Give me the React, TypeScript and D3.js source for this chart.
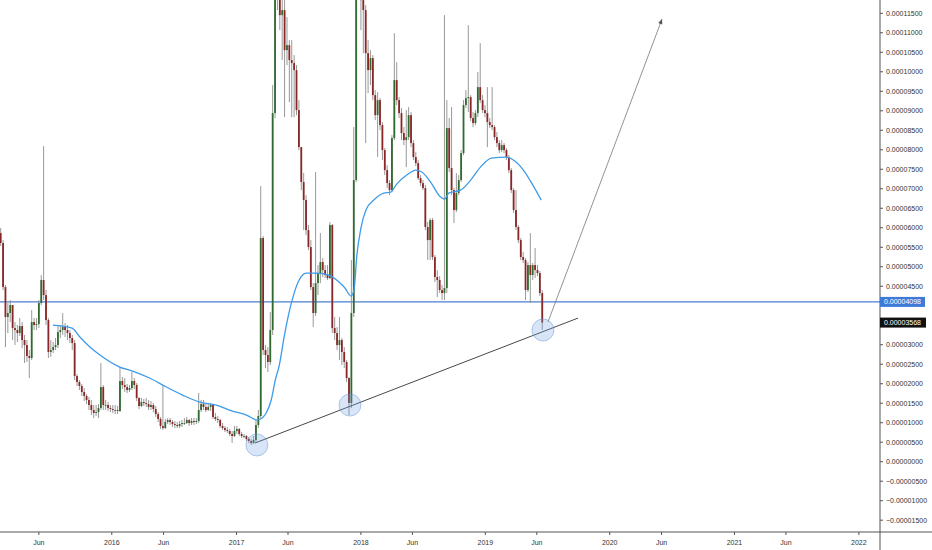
import { useMemo } from "react"
import * as d3 from "d3"

// prices are stored in units of 1e-8 (satoshi)
const SAT = 1e-8
const startWeek = new Date(Date.UTC(2015, 1, 9))
const firstOpen = 5864

const closes = [
  5608, 4479, 3710, 3813, 4018, 3428, 3377, 3300, 3479, 3120,
  2992, 2710, 2659, 3582, 3505, 3531, 4069, 4659, 4274, 3633,
  2813, 2864, 2941, 2992, 3326, 3377, 3454, 3377, 3300, 3172,
  3043, 2197, 2044, 1941, 1787, 1685, 1582, 1454, 1326, 1249,
  1274, 1377, 1915, 1454, 1454, 1377, 1351, 1326, 1326, 1300,
  2069, 1967, 1915, 1838, 1890, 2069, 1967, 1633, 1428, 1531,
  1505, 1479, 1403, 1454, 1351, 1223, 1095, 915, 864, 1018,
  1069, 1018, 967, 941, 915, 967, 992, 992, 1069, 992,
  1044, 1018, 1044, 1326, 1479, 1403, 1326, 1403, 1454, 1146,
  1095, 1069, 915, 864, 813, 787, 710, 659, 787, 838,
  710, 659, 659, 582, 531, 479, 556, 941, 1172, 5736,
  2864, 2736, 2556, 3377, 8941, 12864, 12351, 11453, 11582, 10556,
  10684, 10300, 10223, 10043, 9018, 8069, 7172, 6710, 5941, 5505,
  4479, 3813, 4582, 4838, 5120, 4915, 4787, 4710, 6069, 3428,
  3300, 2992, 3120, 2813, 2556, 2146, 1505, 3813, 7223, 12607,
  12351, 11838, 11582, 10479, 10043, 10351, 9402, 8889, 9274, 8633,
  7992, 7479, 7146, 6966, 8300, 9787, 9274, 8941, 8428, 8248,
  8325, 8889, 8172, 7813, 7659, 7274, 7146, 7018, 6018, 5684,
  6197, 5248, 4736, 4659, 4402, 4325, 4454, 8556, 7531, 6966,
  6454, 6890, 7223, 7915, 9146, 9325, 9351, 8813, 8684, 8941,
  9607, 9274, 9018, 8941, 8710, 8633, 8582, 8325, 8172, 7992,
  8120, 7992, 7813, 7479, 6966, 6454, 6018, 5684, 5248, 5172,
  4402, 5043, 4787, 5043, 4915, 4838, 4325, 3568,
]

const highs = [
  5992, 5684, 4531, 4069, 4146, 3890, 3582, 3505, 3684, 3582,
  3249, 3120, 2864, 3890, 3684, 3684, 4146, 4787, 8095, 4402,
  3684, 3120, 3069, 3172, 3505, 3505, 3813, 3556, 3505, 3377,
  3249, 3120, 2249, 2095, 1992, 1890, 1736, 1659, 1582, 1454,
  1454, 1479, 2531, 1967, 1582, 1531, 1454, 1454, 1454, 1428,
  2428, 2172, 2146, 1992, 1967, 2300, 2146, 2018, 1659, 1633,
  1608, 1633, 1582, 1556, 1505, 1428, 1274, 1146, 1967, 1095,
  1120, 1120, 1069, 1044, 1018, 1044, 1069, 1120, 1146, 1095,
  1120, 1120, 1120, 1761, 1582, 1582, 1505, 1505, 1505, 1479,
  1249, 1172, 1095, 992, 915, 890, 838, 787, 915, 915,
  864, 761, 710, 685, 633, 582, 659, 1069, 1326, 7069,
  5787, 2992, 2941, 3838, 9659, 13889, 13633, 12607, 12094, 11838,
  11402, 10812, 10812, 10428, 10171, 9274, 8043, 7402, 6838, 6069,
  5684, 4582, 7428, 5043, 5864, 5223, 5043, 5043, 6146, 6095,
  3710, 3454, 3710, 3172, 2941, 2608, 2172, 5172, 8582, 13376,
  13633, 12864, 12351, 11710, 10812, 10556, 10428, 9530, 9479, 9325,
  8710, 8043, 7607, 7223, 8377, 10992, 10248, 9351, 9069, 8582,
  9018, 9095, 8966, 8248, 7941, 7736, 7351, 7223, 7095, 6146,
  6248, 6248, 5300, 4915, 4761, 4531, 11453, 9274, 8813, 9095,
  7018, 7402, 7351, 7992, 9274, 9530, 11197, 9402, 8966, 9018,
  9992, 10735, 9402, 9146, 9607, 8813, 9607, 8633, 8454, 8248,
  8248, 8172, 8043, 7864, 7531, 7018, 6966, 6069, 5736, 5377,
  5223, 5120, 5864, 5095, 5479, 5043, 4890, 4402,
]

const lows = [
  5531, 4402, 2941, 3300, 3582, 3120, 2992, 3069, 3223, 2915,
  2531, 2556, 2146, 2608, 3377, 3377, 3428, 4018, 4146, 3505,
  2659, 2685, 2787, 2864, 2915, 3172, 3249, 3197, 3120, 3043,
  2864, 2095, 1941, 1838, 1685, 1556, 1479, 1326, 1197, 1120,
  1172, 1120, 1326, 1326, 1326, 1300, 1274, 1249, 1223, 1223,
  1274, 1864, 1787, 1761, 1787, 1838, 1864, 1556, 1351, 1403,
  1428, 1403, 1326, 1326, 1274, 1146, 1018, 838, 813, 838,
  967, 941, 890, 864, 864, 864, 890, 941, 967, 915,
  941, 941, 967, 992, 1274, 1326, 1274, 1300, 1300, 1095,
  1044, 992, 864, 813, 761, 736, 659, 479, 633, 710,
  659, 608, 608, 531, 479, 428, 454, 505, 864, 1120,
  2736, 2402, 2300, 2479, 3249, 8813, 11582, 11069, 10300, 8838,
  10171, 9223, 8838, 8838, 8889, 7992, 6966, 5941, 5813, 5428,
  4402, 3454, 3736, 4274, 4582, 4736, 4710, 4659, 4684, 3300,
  3120, 2864, 2608, 2479, 2402, 2044, 1197, 1377, 3710, 7172,
  11966, 11069, 10479, 8172, 9454, 9659, 9274, 8761, 7813, 8505,
  7736, 7351, 7018, 6838, 6915, 8248, 9146, 8813, 8248, 8120,
  7556, 8248, 8069, 7736, 7582, 7223, 7069, 6966, 5941, 5172,
  5172, 5172, 4608, 4223, 4325, 4146, 4146, 4325, 7428, 6838,
  6120, 6402, 6838, 7172, 7864, 9069, 8966, 8736, 8582, 8633,
  8838, 9197, 8941, 8838, 8069, 8556, 8505, 8248, 8069, 7915,
  7941, 7915, 7736, 7402, 6890, 6377, 5941, 5608, 5172, 5095,
  4146, 4351, 4069, 4659, 4710, 4761, 4249, 3377,
]

// moving average (week index from start, value)
const maWeeks = [
  21.9, 29.9, 33.2, 37.4, 41.6, 49.9, 55.3, 62.4, 69.5, 76.2,
  83.3, 90.4, 97.1, 103, 107.6, 109.6, 111.3, 113.4, 115.1, 116.8,
  118.8, 120.9, 123, 125.1, 128, 132.2, 137.6, 141.8, 144.3, 146.8,
  148.1, 149.3, 151, 153.1, 156.4, 160.6, 163.5, 166, 170.2, 174,
  176.5, 180.2, 184.4, 186.1, 187.8, 192.8, 197, 201.1, 205.7, 212,
  214.9, 219.1, 223.3, 226.6,
]
const maValues = [
  3505, 3428, 3197, 2941, 2736, 2428, 2326, 2146, 1915, 1710,
  1531, 1454, 1300, 1197, 1069, 1120, 1249, 1582, 2095, 2479,
  3197, 3838, 4325, 4659, 4838, 4838, 4787, 4608, 4454, 4249,
  4402, 5300, 5992, 6454, 6710, 6890, 6915, 7120, 7351, 7479,
  7428, 7172, 6787, 6735, 6890, 6966, 7223, 7556, 7787, 7813,
  7736, 7479, 7069, 6710,
]

const levelPrice = 4098
const lastPrice = 3568

// drawings
const circleWeeks = [107.4, 146.4, 227.3]
const circleValues = [428, 1454, 3377]
const trendWeeks = [106.6, 242]
const trendValues = [479, 3684]
const arrowWeeks = [229.4, 277.2]
const arrowValues = [3582, 11351]

const priceTicks = d3.range(-1500, 11501, 500)
const timeTicks = [
  "2015-06-01", "2016-01-01", "2016-06-01", "2017-01-01", "2017-06-01",
  "2018-01-01", "2018-06-01", "2019-01-01", "2019-06-01", "2020-01-01",
  "2020-06-01", "2021-01-01", "2021-06-01", "2022-01-01",
]

const W = 932
const H = 550
const plotRight = 880
const axisY = 532
const FONT = "'Liberation Sans', Arial, sans-serif"

const weekDate = (w: number) => new Date(startWeek.getTime() + w * 7 * 86400000)
const fmtPrice = (v: number) =>
  (v < 0 ? "\u2212" : "") + (Math.abs(v) * SAT).toFixed(8)

export default function App() {
  const x = d3
    .scaleTime()
    .domain([new Date(Date.UTC(2015, 1, 7)), new Date(Date.UTC(2022, 2, 4))])
    .range([0, plotRight])
  const y = d3
    .scaleLinear()
    .domain([-1500 * SAT, 11500 * SAT])
    .range([520.2, 13.3])

  const candles = useMemo(
    () =>
      closes.map((c, i) => {
        const o = i === 0 ? firstOpen : closes[i - 1]
        return {
          date: weekDate(i),
          o,
          c,
          h: Math.max(highs[i], o, c),
          l: Math.min(lows[i], o, c),
        }
      }),
    []
  )

  const maLine = d3
    .line<number>()
    .x((w) => x(weekDate(w)))
    .y((_, i) => y(maValues[i] * SAT))
    .curve(d3.curveMonotoneX)(maWeeks)

  const ax = x(weekDate(arrowWeeks[0]))
  const ay = y(arrowValues[0] * SAT)
  const bx = x(weekDate(arrowWeeks[1]))
  const by = y(arrowValues[1] * SAT)
  const ang = (Math.atan2(by - ay, bx - ax) * 180) / Math.PI

  const levelY = y(levelPrice * SAT)
  const lastY = y(lastPrice * SAT)

  // tick labels hidden under the price boxes
  const hidden = (ty: number) => Math.abs(ty - levelY) < 8 || Math.abs(ty - lastY) < 8

  return (
    <svg
      width={W}
      height={H}
      style={{ position: "absolute", left: 0, top: 0, background: "#fff" }}
      fontFamily={FONT}
    >
      <defs>
        <clipPath id="plot">
          <rect x={0} y={0} width={plotRight} height={axisY} />
        </clipPath>
      </defs>

      <g clipPath="url(#plot)">
        {/* horizontal level */}
        <line x1={0} x2={plotRight} y1={levelY} y2={levelY} stroke="#4a7fd6" strokeWidth={1.4} />

        {/* candles */}
        {candles.map((d, i) => {
          const cx = x(d.date)
          const up = d.c >= d.o
          const top = y(Math.max(d.o, d.c) * SAT)
          const bot = y(Math.min(d.o, d.c) * SAT)
          return (
            <g key={i}>
              <line
                x1={cx}
                x2={cx}
                y1={y(d.h * SAT)}
                y2={y(d.l * SAT)}
                stroke="#8c8c8c"
                strokeWidth={0.9}
              />
              <rect
                x={cx - 0.9}
                y={top}
                width={1.8}
                height={Math.max(0.8, bot - top)}
                fill={up ? "#2f6a2f" : "#8a2626"}
              />
            </g>
          )
        })}

        {/* moving average */}
        <path d={maLine ?? ""} fill="none" stroke="#3d9be9" strokeWidth={1.3} />

        {/* trend line */}
        <line
          x1={x(weekDate(trendWeeks[0]))}
          y1={y(trendValues[0] * SAT)}
          x2={x(weekDate(trendWeeks[1]))}
          y2={y(trendValues[1] * SAT)}
          stroke="#333"
          strokeWidth={0.9}
        />

        {/* arrow */}
        <line x1={ax} y1={ay} x2={bx} y2={by} stroke="#777" strokeWidth={0.8} />
        <path
          d="M0,0 L-5,-2.2 L-5,2.2 Z"
          fill="#555"
          transform={`translate(${bx},${by}) rotate(${ang})`}
        />

        {/* circles */}
        {circleWeeks.map((w, i) => (
          <circle
            key={i}
            cx={x(weekDate(w))}
            cy={y(circleValues[i] * SAT)}
            r={11}
            fill="rgba(110,160,225,0.28)"
            stroke="rgba(90,140,215,0.55)"
            strokeWidth={0.8}
          />
        ))}
      </g>

      {/* axes lines */}
      <line x1={0} x2={W} y1={axisY} y2={axisY} stroke="#555" strokeWidth={1} />
      <line x1={plotRight} x2={plotRight} y1={0} y2={H} stroke="#555" strokeWidth={1} />

      {/* time axis */}
      {timeTicks.map((t) => {
        const d = new Date(t + "T00:00:00Z")
        const tx = x(d)
        const label = d.getUTCMonth() === 0 ? String(d.getUTCFullYear()) : "Jun"
        return (
          <g key={t}>
            <line x1={tx} x2={tx} y1={axisY} y2={axisY + 3} stroke="#555" />
            <text x={tx} y={545} textAnchor="middle" fontSize={7} fill="#333">
              {label}
            </text>
          </g>
        )
      })}

      {/* price axis */}
      {priceTicks.map((v) => {
        const ty = y(v * SAT)
        return (
          <g key={v}>
            <line x1={plotRight} x2={plotRight + 3} y1={ty} y2={ty} stroke="#555" />
            {!hidden(ty) && (
              <text x={886} y={ty} dy="0.35em" fontSize={7} fill="#333">
                {fmtPrice(v)}
              </text>
            )}
          </g>
        )
      })}

      {/* price labels */}
      <rect x={plotRight} y={levelY - 5} width={45} height={10} fill="#3f7ad8" />
      <text x={884} y={levelY} dy="0.35em" fontSize={7} fill="#fff">
        {fmtPrice(levelPrice)}
      </text>
      <rect x={plotRight} y={lastY - 5} width={46} height={10} fill="#111" />
      <text x={884} y={lastY} dy="0.35em" fontSize={7} fill="#fff">
        {fmtPrice(lastPrice)}
      </text>
    </svg>
  )
}
